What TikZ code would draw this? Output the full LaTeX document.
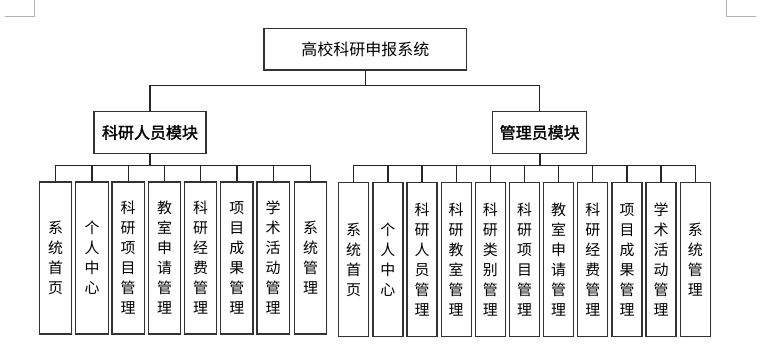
\documentclass[tikz,border=0pt]{standalone}
\usepackage{fontspec}
\newfontfamily\cjk{Noto Sans CJK SC}
\newfontfamily\cjkb[FakeBold=1.6]{Noto Sans CJK SC}
\usetikzlibrary{shadows}
\tikzset{
  box/.style={draw=black!80, line width=0.95pt, fill=white, inner sep=0pt, align=center,
    drop shadow={shadow xshift=0.9pt, shadow yshift=-0.9pt, opacity=0.12, fill=blue!30}},
  topbox/.style={box, minimum width=152pt, minimum height=31.3pt, font=\cjk\fontsize{12}{14}\selectfont},
  modbox/.style={box, minimum height=31pt, font=\cjkb\fontsize{12}{14}\selectfont},
  leafL/.style={box, minimum width=24.3pt, minimum height=114pt, font=\cjk\fontsize{11.2}{15}\selectfont},
  leafR/.style={box, minimum width=22.5pt, minimum height=115.8pt, font=\cjk\fontsize{11.2}{15}\selectfont},
  conn/.style={draw=black!85, line width=0.95pt},
  crop/.style={draw=black!30, line width=0.75pt}
}
\begin{document}
\begin{tikzpicture}[x=0.75pt,y=-0.75pt]
\useasboundingbox (0,0) rectangle (771,343);
% crop marks
\draw[crop] (34.7,0) -- (34.7,16) -- (5,16);
\draw[crop] (726,0) -- (726,16) -- (755.7,16);

\node[topbox] (top) at (365.3,49.2) {高校科研申报系统};
\node[modbox, minimum width=84pt] (lm) at (150,132.5) {科研人员模块};
\node[modbox, minimum width=70.5pt] (rm) at (539.7,132.5) {管理员模块};

% left leaves
\node[leafL] (l1) at (55.5,258) {系\\统\\首\\页};
\node[leafL] (l2) at (92,258) {个\\人\\中\\心};
\node[leafL] (l3) at (128.2,258) {科\\研\\项\\目\\管\\理};
\node[leafL] (l4) at (164.5,258) {教\\室\\申\\请\\管\\理};
\node[leafL] (l5) at (200.5,258) {科\\研\\经\\费\\管\\理};
\node[leafL] (l6) at (236.9,258) {项\\目\\成\\果\\管\\理};
\node[leafL] (l7) at (273.2,258) {学\\术\\活\\动\\管\\理};
\node[leafL] (l8) at (310.5,258) {系\\统\\管\\理};

% right leaves
\node[leafR] (r1) at (353.7,259.5) {系\\统\\首\\页};
\node[leafR] (r2) at (387.9,259.5) {个\\人\\中\\心};
\node[leafR] (r3) at (422.0,259.5) {科\\研\\人\\员\\管\\理};
\node[leafR] (r4) at (456.2,259.5) {科\\研\\教\\室\\管\\理};
\node[leafR] (r5) at (490.3,259.5) {科\\研\\类\\别\\管\\理};
\node[leafR] (r6) at (524.5,259.5) {科\\研\\项\\目\\管\\理};
\node[leafR] (r7) at (558.7,259.5) {教\\室\\申\\请\\管\\理};
\node[leafR] (r8) at (592.8,259.5) {科\\研\\经\\费\\管\\理};
\node[leafR] (r9) at (627.0,259.5) {项\\目\\成\\果\\管\\理};
\node[leafR] (r10) at (661.1,259.5) {学\\术\\活\\动\\管\\理};
\node[leafR] (r11) at (695.3,259.5) {系\\统\\管\\理};

\coordinate (tb) at (365.3,85.3);
\coordinate (lb) at (150,165.5);
\coordinate (rb) at (539.7,165.7);

\draw[conn] (top.south) -- (tb);
\draw[conn] (lm.north) |- (tb);
\draw[conn] (rm.north) |- (tb);

\draw[conn, line width=1.4pt] (lm.south) -- (lb);
\foreach \i in {1,...,8} \draw[conn] (l\i.north) |- (lb);
\draw[conn, line width=1.4pt] (rm.south) -- (rb);
\foreach \i in {1,...,11} \draw[conn] (r\i.north) |- (rb);
\end{tikzpicture}
\end{document}
